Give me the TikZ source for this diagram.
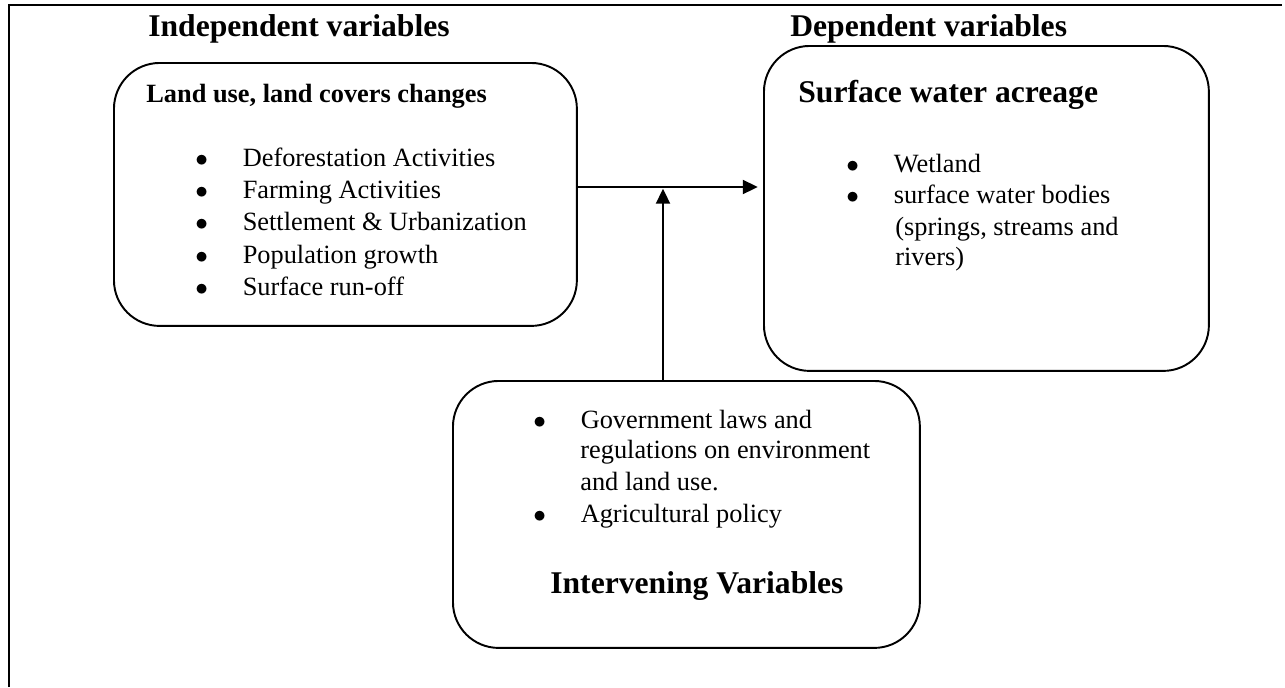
\documentclass[tikz,border=0pt]{standalone}
\usepackage{fontspec}
\setmainfont{Liberation Serif}
\usetikzlibrary{arrows.meta,positioning}

\newcommand{\bul}{\makebox[27pt][l]{$\bullet$}}

\begin{document}
\begin{tikzpicture}[x=0.02cm, y=-0.02cm,
    box/.style={draw, line width=1.1pt, rounded corners=26pt, anchor=north west, inner sep=0pt},
    txt/.style={anchor=base west, inner sep=0pt, font=\fontsize{15}{18}\selectfont},
    head/.style={anchor=base west, inner sep=0pt, font=\fontsize{18}{22}\selectfont\bfseries},
    arr/.style={-{Triangle[length=8.5pt,width=8pt]}, line width=1.1pt}]
  \useasboundingbox (0,0) rectangle (1285,687);

  % Marco
  \draw[line width=1.7pt] (9,687) -- (9,5) -- (1282,5);

  % Titulos
  \node[head] (indep) at (148,36) {Independent variables};
  \node[head] (dep) at (790,36) {Dependent variables};

  % Cajas
  \node[box, minimum width=9.26cm, minimum height=5.26cm] (luc) at (113,62) {};
  \node[box, minimum width=8.9cm, minimum height=6.5cm] (swa) at (763,45) {};
  \node[box, minimum width=9.34cm, minimum height=5.34cm] (iv) at (452,380) {};

  % Caja izquierda
  \node[txt, font=\fontsize{15}{18}\selectfont\bfseries] (lucT) at (146,102) {Land use, land covers changes};
  \node[txt] (l1) at (195,166) {\bul Deforestation Activities};
  \node[txt] (l2) at (195,198) {\bul Farming Activities};
  \node[txt] (l3) at (195,230) {\bul Settlement \& Urbanization};
  \node[txt] (l4) at (195,263) {\bul Population growth};
  \node[txt] (l5) at (195,295) {\bul Surface run-off};

  % Caja derecha
  \node[head] (swaT) at (798,102) {Surface water acreage};
  \node[txt] (r1) at (846,172) {\bul Wetland};
  \node[txt] (r2) at (846,203) {\bul surface water bodies};
  \node[txt] (r3) at (895,235) {(springs, streams and};
  \node[txt] (r4) at (895,265) {rivers)};

  % Caja inferior
  \node[txt] (b1) at (533,428) {\bul Government laws and};
  \node[txt] (b2) at (580,458) {regulations on environment};
  \node[txt] (b3) at (580,490) {and land use.};
  \node[txt] (b4) at (533,522) {\bul Agricultural policy};
  \node[head] (ivT) at (550,593) {Intervening Variables};

  % Flechas
  \coordinate (jn) at (663,187);
  \draw[arr, shorten >=3pt] (luc.east |- jn) -- (swa.west |- jn);
  \draw[arr, shorten >=1pt] (iv.north -| jn) -- (jn);
\end{tikzpicture}
\end{document}
